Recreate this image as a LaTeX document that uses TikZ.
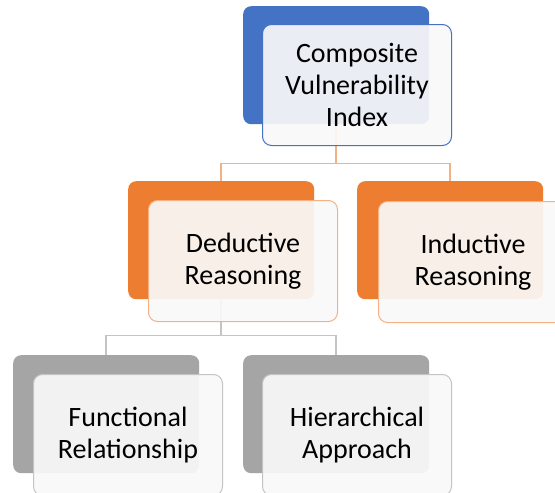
\documentclass[tikz,border=0pt]{standalone}
\usepackage{fontspec}
\setmainfont{Carlito}
\definecolor{cblue}{HTML}{4472C4}
\definecolor{corange}{HTML}{ED7D31}
\definecolor{cgrey}{HTML}{A5A5A5}
\definecolor{lorange}{HTML}{F4B183}
\definecolor{lgrey}{HTML}{C4C4C4}
\definecolor{frontfill}{HTML}{F9F9F9}
\tikzset{
  backbox/.style={rounded corners=8pt, minimum width=186pt, minimum height=118pt,
    inner sep=0pt, anchor=north west, draw=none},
  frontbox/.style={rounded corners=9pt, minimum width=189pt, minimum height=121pt,
    inner sep=0pt, anchor=north west, fill=frontfill, fill opacity=0.92, text opacity=1,
    line width=1pt, align=center, font=\fontsize{28}{32}\selectfont},
  oline/.style={draw=lorange, line width=1.5pt},
  gline/.style={draw=lgrey, line width=1.5pt},
}
\begin{document}
\begin{tikzpicture}[x=1pt,y=-1pt]
\clip (0,0) rectangle (555,493);
\fill[white] (0,0) rectangle (555,493);
% back boxes
\node[backbox, fill=cblue]   (cviB) at (243,6) {};
\node[backbox, fill=corange] (dedB) at (128,181) {};
\node[backbox, fill=corange] (indB) at (357,181) {};
\node[backbox, fill=cgrey]   (funB) at (13,355) {};
\node[backbox, fill=cgrey]   (hieB) at (243,355) {};
% connectors
\path (cviB.south) ++(0,39) coordinate (j1);
\draw[oline] (cviB.south) -- (j1);
\draw[oline] (dedB.north) |- (j1) -| (indB.north);
\path (dedB.south) ++(0,36) coordinate (j2);
\draw[gline] (dedB.south) -- (j2);
\draw[gline] (funB.north) |- (j2) -| (hieB.north);
% front boxes
\node[frontbox, draw=cblue]  (cviF) at (262,24)  {Composite\\Vulnerability\\Index};
\node[frontbox, draw=lorange] (dedF) at (148,200) {Deductive\\Reasoning};
\node[frontbox, draw=lorange] (indF) at (378,201) {Inductive\\Reasoning};
\node[frontbox, draw=lgrey]  (funF) at (33,374)  {Functional\\Relationship};
\node[frontbox, draw=lgrey]  (hieF) at (262,374) {Hierarchical\\Approach};
\end{tikzpicture}
\end{document}
